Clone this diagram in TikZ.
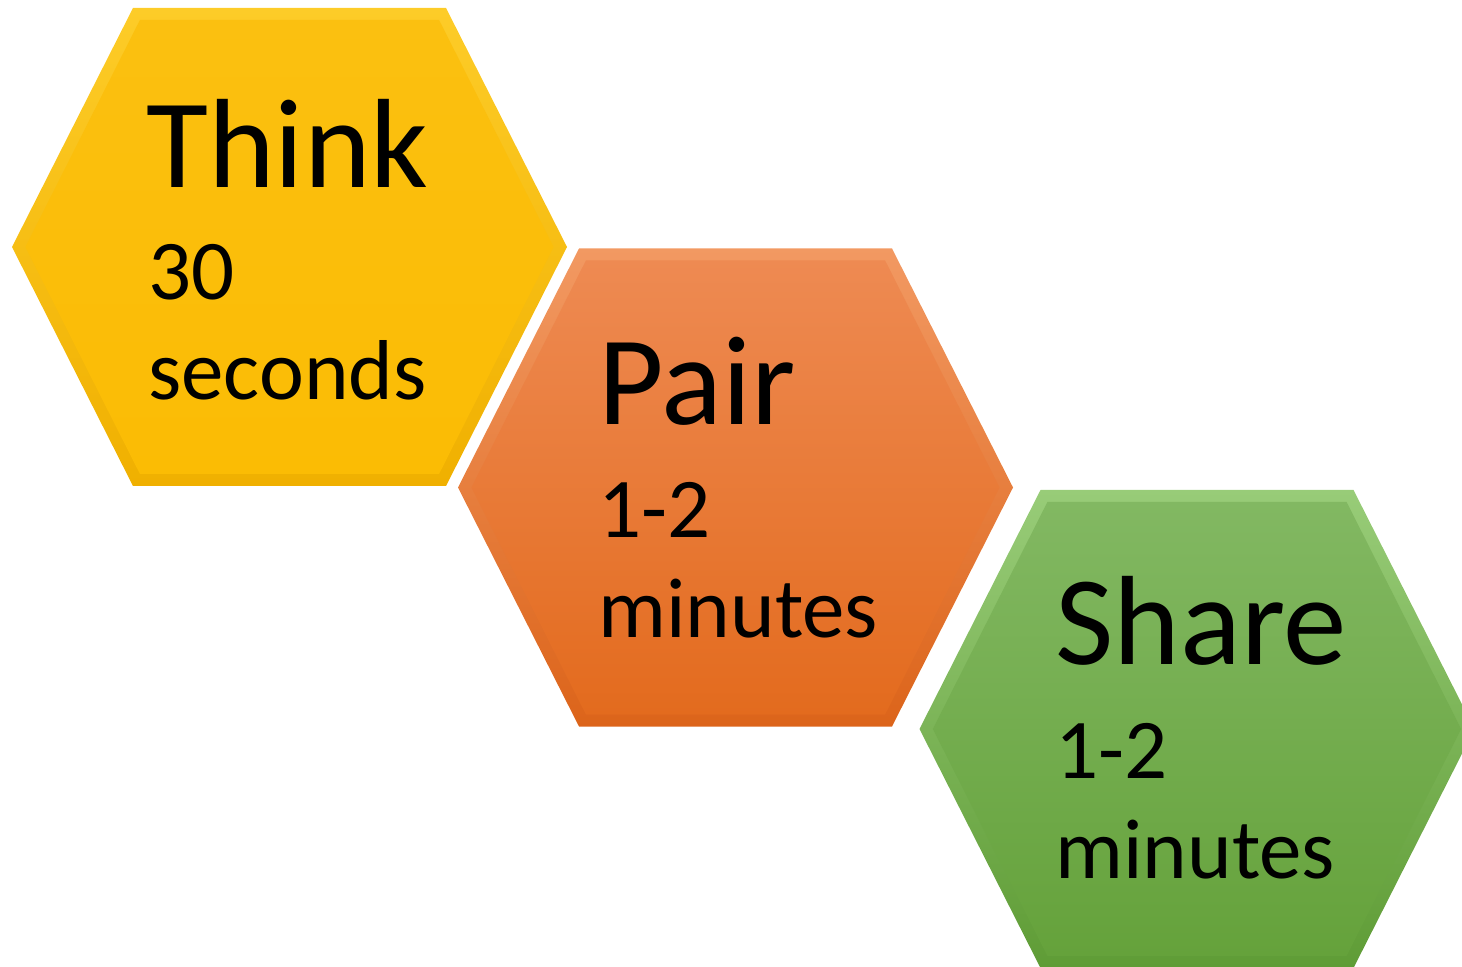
\documentclass[tikz,border=0pt]{standalone}
\usepackage{fontspec}
\setmainfont{Carlito}
\usetikzlibrary{positioning}

\definecolor{thinkEdgeTop}{HTML}{FDCC28}
\definecolor{thinkEdgeBot}{HTML}{F0B000}
\definecolor{thinkTop}{HTML}{FBC010}
\definecolor{thinkBot}{HTML}{FBBC04}
\definecolor{pairEdgeTop}{HTML}{F29962}
\definecolor{pairEdgeBot}{HTML}{DC641A}
\definecolor{pairTop}{HTML}{EE8A52}
\definecolor{pairBot}{HTML}{E36B1E}
\definecolor{shareEdgeTop}{HTML}{98CC78}
\definecolor{shareEdgeBot}{HTML}{5F9C36}
\definecolor{shareTop}{HTML}{82B862}
\definecolor{shareBot}{HTML}{65A23B}

% outer and inner outline of one hexagon, around (0,0)
\newcommand{\hexouter}{(-277.5,0) -- (-156.5,-239) -- (156.5,-239) -- (277.5,0) -- (156.5,239) -- (-156.5,239) -- cycle}
\newcommand{\hexinner}{(-264.1,0) -- (-149.6,-227) -- (149.6,-227) -- (264.1,0) -- (149.6,227) -- (-149.6,227) -- cycle}

\tikzset{
  titletext/.style={anchor=base west, inner sep=0pt, font=\fontsize{63.5}{70}\selectfont},
  timetext/.style={anchor=base west, inner sep=0pt, font=\fontsize{42.5}{50}\selectfont}
}

\begin{document}
\begin{tikzpicture}[x=0.5pt,y=-0.5pt]
    \useasboundingbox (0,0) rectangle (1462,967);
    \clip (0,0) rectangle (1462,967);
    % Think
    \begin{scope}[shift={(289.5,247)}]
        \shade [top color=thinkEdgeTop, bottom color=thinkEdgeBot] \hexouter;
        \shade [top color=thinkTop, bottom color=thinkBot] \hexinner;
    \end{scope}
    % Pair
    \begin{scope}[shift={(735.5,487.5)}]
        \shade [top color=pairEdgeTop, bottom color=pairEdgeBot] \hexouter;
        \shade [top color=pairTop, bottom color=pairBot] \hexinner;
    \end{scope}
    % Share
    \begin{scope}[shift={(1197,729)}]
        \shade [top color=shareEdgeTop, bottom color=shareEdgeBot] \hexouter;
        \shade [top color=shareTop, bottom color=shareBot] \hexinner;
    \end{scope}

    \node [titletext] (thinkTitle) at (146,188) {Think};
    \node [timetext] (thinkNum) at (148,300) {30};
    \node [timetext] (thinkUnit) at (148,400) {seconds};

    \node [titletext] (pairTitle) at (598,425) {Pair};
    \node [timetext] (pairNum) at (598,538) {1-2};
    \node [timetext] (pairUnit) at (598,638) {minutes};

    \node [titletext] (shareTitle) at (1055,665) {Share};
    \node [timetext] (shareNum) at (1055,778) {1-2};
    \node [timetext] (shareUnit) at (1055,878) {minutes};
\end{tikzpicture}
\end{document}
